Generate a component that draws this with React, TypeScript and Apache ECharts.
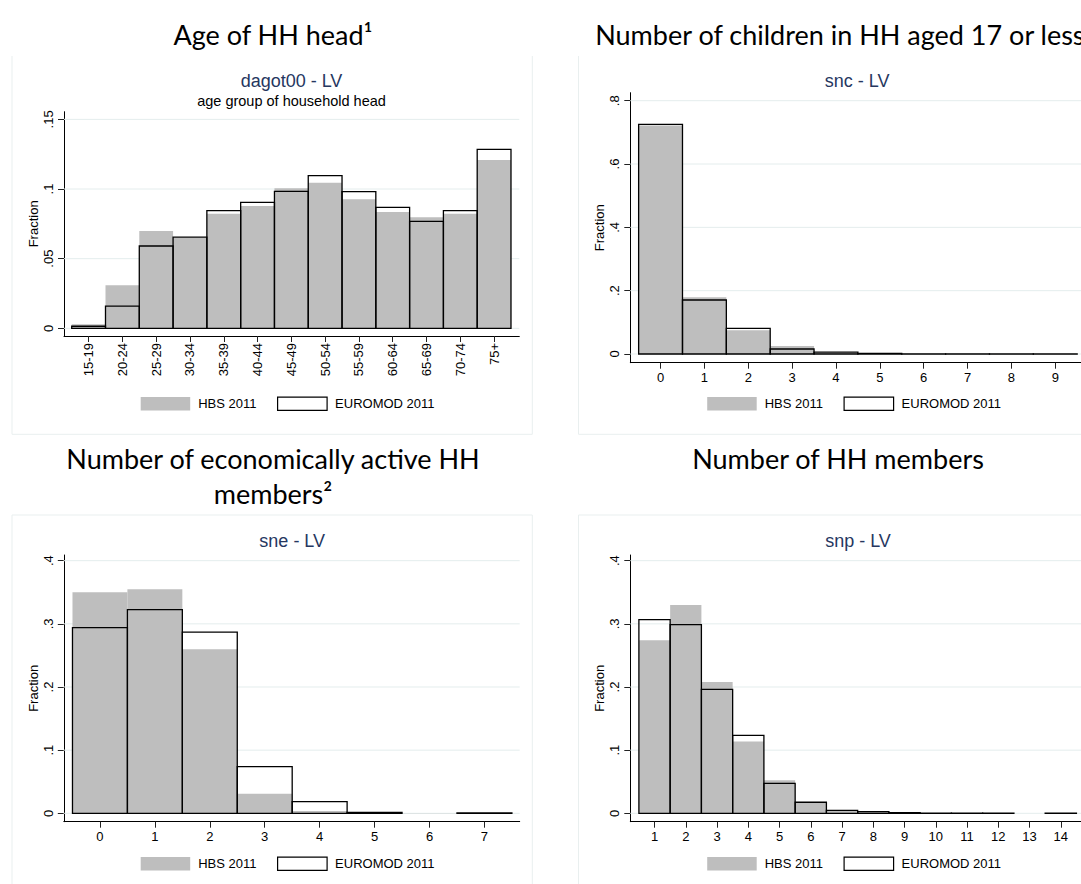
import React, { useEffect, useRef } from "react";
import * as echarts from "echarts";

// ---------- data ----------
const ageGroups = ["15-19", "20-24", "25-29", "30-34", "35-39", "40-44", "45-49", "50-54", "55-59", "60-64", "65-69", "70-74", "75+"];
const ageHBS = [0.003, 0.031, 0.0699, 0.0652, 0.0823, 0.0878, 0.1005, 0.1045, 0.0926, 0.0835, 0.0797, 0.0823, 0.1208];
const ageEM = [0.0015, 0.016, 0.0591, 0.0655, 0.0845, 0.0904, 0.0983, 0.1096, 0.0981, 0.0868, 0.0768, 0.0845, 0.1285];

const childValues = [0, 1, 2, 3, 4, 5, 6, 7, 8, 9];
const childHBS = [0.722, 0.179, 0.0747, 0.0253, 0.004, 0.001, 0.0005, 0.0004, 0.0003, 0.0003];
const childEM = [0.725, 0.1705, 0.081, 0.0158, 0.006, 0.0015, 0.0006, 0.0004, 0.0003, 0.0003];

const activeValues = [0, 1, 2, 3, 4, 5, 6, 7];
const activeHBS = [0.35, 0.3546, 0.2596, 0.0311, 0.0037, 0.0022, 0.0006, 0];
const activeEM = [0.294, 0.3224, 0.287, 0.0739, 0.0185, 0.0015, 0, 0.0008];

const memberValues = [1, 2, 3, 4, 5, 6, 7, 8, 9, 10, 11, 12, 13, 14];
const memberHBS = [0.2739, 0.3298, 0.208, 0.1135, 0.0522, 0.017, 0.004, 0.003, 0.0008, 0.0003, 0.0001, 0, 0, 0];
const memberEM = [0.3066, 0.2987, 0.1963, 0.1235, 0.0475, 0.0175, 0.0047, 0.0026, 0.0012, 0.0004, 0.0003, 0.0002, 0, 0.0002];

const yTicksAge = [0, 0.05, 0.1, 0.15];
const yLabelsAge = ["0", ".05", ".1", ".15"];
const yTicksChild = [0, 0.2, 0.4, 0.6, 0.8];
const yLabelsChild = ["0", ".2", ".4", ".6", ".8"];
const yTicksTenth = [0, 0.1, 0.2, 0.3, 0.4];
const yLabelsTenth = ["0", ".1", ".2", ".3", ".4"];

const seriesNames = ["HBS 2011", "EUROMOD 2011"];

// ---------- style ----------
const GREY = "#bebebe";
const GRID = "#e4eded";
const FRAME = "#e9efef";
const NAVY = "#26375f";
const AXFONT = "Liberation Sans, Arial, sans-serif";
const TITLEFONT = "Lato, 'Open Sans', sans-serif";

function labelFor(ticks: number[], labels: string[]) {
  return (v: number) => {
    const i = ticks.findIndex((t) => Math.abs(t - v) < 1e-9);
    return i >= 0 ? labels[i] : "";
  };
}

function barRender(fill: string, stroke: string, lw: number) {
  return (params: any, api: any) => {
    const x = api.value(0);
    const v = api.value(1);
    if (!v) return { type: "group", children: [] };
    const a = api.coord([x - 0.5, 0]);
    const b = api.coord([x + 0.5, v]);
    return {
      type: "rect",
      shape: { x: a[0], y: b[1], width: b[0] - a[0], height: a[1] - b[1] },
      style: { fill, stroke, lineWidth: lw },
    };
  };
}

function gridLineSeries(idx: number, ticks: number[]) {
  return {
    type: "custom",
    xAxisIndex: idx,
    yAxisIndex: idx,
    silent: true,
    z: 1,
    data: ticks.map((t) => [0, t]),
    encode: { x: 0, y: 1 },
    renderItem: (params: any, api: any) => {
      const cs = params.coordSys;
      const y = api.coord([api.value(0), api.value(1)])[1];
      return {
        type: "line",
        shape: { x1: cs.x, y1: y, x2: cs.x + cs.width, y2: y },
        style: { stroke: GRID, lineWidth: 1 },
      };
    },
  };
}

function histPair(idx: number, xs: number[], hbs: number[], em: number[]) {
  return [
    {
      type: "custom",
      name: seriesNames[0],
      xAxisIndex: idx,
      yAxisIndex: idx,
      z: 2,
      itemStyle: { color: GREY },
      data: xs.map((x, i) => [x, hbs[i]]),
      encode: { x: 0, y: 1 },
      renderItem: barRender(GREY, "none", 0),
    },
    {
      type: "custom",
      name: seriesNames[1],
      xAxisIndex: idx,
      yAxisIndex: idx,
      z: 3,
      itemStyle: { color: "#ffffff", borderColor: "#000", borderWidth: 1.3 },
      data: xs.map((x, i) => [x, em[i]]),
      encode: { x: 0, y: 1 },
      renderItem: barRender("none", "#000", 1.3),
    },
  ];
}

function xAxis(idx: number, min: number, max: number, ticks: number[], fmt: (v: number) => string, rotate = 0) {
  return {
    type: "value",
    gridIndex: idx,
    min,
    max,
    axisLine: { show: true, onZero: false, lineStyle: { color: "#000", width: 1 } },
    axisTick: { show: true, customValues: ticks, length: 6, lineStyle: { color: "#222", width: 1 } },
    axisLabel: {
      customValues: ticks,
      formatter: fmt,
      rotate,
      margin: rotate ? 7 : 8,
      fontSize: 13,
      fontFamily: AXFONT,
      color: "#000",
    },
    splitLine: { show: false },
  };
}

function yAxis(idx: number, min: number, max: number, ticks: number[], labels: string[]) {
  return {
    type: "value",
    gridIndex: idx,
    min,
    max,
    name: "Fraction",
    nameLocation: "middle",
    nameGap: 24,
    nameTextStyle: { fontSize: 13, fontFamily: AXFONT, color: "#000" },
    axisLine: { show: true, onZero: false, lineStyle: { color: "#000", width: 1 } },
    axisTick: { show: true, customValues: ticks, length: 6, lineStyle: { color: "#222", width: 1 } },
    axisLabel: {
      customValues: ticks,
      formatter: labelFor(ticks, labels),
      rotate: 90,
      margin: 9,
      fontSize: 13,
      fontFamily: AXFONT,
      color: "#000",
    },
    splitLine: { show: false },
  };
}

function legendAt(left: number, top: number) {
  return {
    left,
    top,
    padding: 0,
    orient: "horizontal",
    itemWidth: 49.5,
    itemHeight: 13.3,
    itemGap: 20.5,
    selectedMode: false,
    textStyle: { fontSize: 13, fontFamily: AXFONT, color: "#000", padding: [0, 0, 0, 3] },
    data: [
      { name: seriesNames[0], icon: "rect", itemStyle: { color: GREY, borderWidth: 0 } },
      { name: seriesNames[1], icon: "rect", itemStyle: { color: "#ffffff", borderColor: "#000", borderWidth: 1.2 } },
    ],
  };
}

function txt(x: number, y: number, text: string, font: string, fill: string, align = "center") {
  return {
    type: "text",
    x,
    y,
    silent: true,
    style: { text, font, fill, textAlign: align, textVerticalAlign: "middle" },
  };
}

function ln(x1: number, y1: number, x2: number, y2: number) {
  return {
    type: "line",
    silent: true,
    shape: { x1, y1, x2, y2 },
    style: { stroke: FRAME, lineWidth: 1 },
  };
}

export default function App() {
  const ref = useRef<HTMLDivElement>(null);

  useEffect(() => {
    if (!ref.current) return;
    const chart = echarts.init(ref.current, undefined, { renderer: "svg" });
    const ageIdx = ageGroups.map((_, i) => i);
    const ageFmt = (v: number) => ageGroups[Math.round(v)] ?? "";
    const intFmt = (v: number) => String(Math.round(v));

    const titleFont = `27px ${TITLEFONT}`;
    const subFont = `18px ${AXFONT}`;
    const noteFont = `14.5px ${AXFONT}`;

    const option: any = {
      animation: false,
      backgroundColor: "#ffffff",
      grid: [
        { left: 64, top: 111.7, width: 455.3, height: 224.3 },
        { left: 630.3, top: 92.7, width: 468.8, height: 270 },
        { left: 63.8, top: 555, width: 455.9, height: 266.7 },
        { left: 630.3, top: 555, width: 493, height: 266.7 },
      ],
      xAxis: [
        xAxis(0, -0.728, 12.746, ageIdx, ageFmt, 90),
        xAxis(1, -0.69, 10, childValues, intFmt),
        xAxis(2, -0.658, 7.642, activeValues, intFmt),
        xAxis(3, 0.225, 16, memberValues, intFmt),
      ],
      yAxis: [
        yAxis(0, -0.0055, 0.1555, yTicksAge, yLabelsAge),
        yAxis(1, -0.0275, 0.8253, yTicksChild, yLabelsChild),
        yAxis(2, -0.0133, 0.409, yTicksTenth, yLabelsTenth),
        yAxis(3, -0.0133, 0.409, yTicksTenth, yLabelsTenth),
      ],
      legend: [legendAt(140.7, 396.5), legendAt(707.2, 396.5), legendAt(140.7, 856.5), legendAt(707.2, 856.5)],
      series: [
        gridLineSeries(0, yTicksAge),
        gridLineSeries(1, yTicksChild),
        gridLineSeries(2, yTicksTenth),
        gridLineSeries(3, yTicksTenth),
        ...histPair(0, ageIdx, ageHBS, ageEM),
        ...histPair(1, childValues, childHBS, childEM),
        ...histPair(2, activeValues, activeHBS, activeEM),
        ...histPair(3, memberValues, memberHBS, memberEM),
      ],
      graphic: [
        // frames
        ln(12, 56, 12, 434.3),
        ln(12, 434.3, 532.3, 434.3),
        ln(532.3, 56, 532.3, 434.3),
        ln(578.5, 56, 578.5, 434.3),
        ln(578.5, 434.3, 1140, 434.3),
        ln(12, 515, 532.3, 515),
        ln(12, 515, 12, 884),
        ln(532.3, 515, 532.3, 884),
        ln(578.5, 515, 1140, 515),
        ln(578.5, 515, 578.5, 884),
        // slide titles
        txt(273, 34.2, "Age of HH head\u00B9", titleFont, "#000"),
        txt(595.2, 34.2, "Number of children in HH aged 17 or less", titleFont, "#000", "left"),
        txt(273, 458.3, "Number of economically active HH", titleFont, "#000"),
        txt(273, 493.7, "members\u00B2", titleFont, "#000"),
        txt(838, 458.3, "Number of HH members", titleFont, "#000"),
        // chart titles
        txt(291.5, 80.5, "dagot00 - LV", subFont, NAVY),
        txt(291.5, 101, "age group of household head", noteFont, "#000"),
        txt(857.2, 80.5, "snc - LV", subFont, NAVY),
        txt(292.2, 540.5, "sne - LV", subFont, NAVY),
        txt(858, 540.5, "snp - LV", subFont, NAVY),
      ],
    };
    chart.setOption(option);
    return () => chart.dispose();
  }, []);

  return (
    <div
      style={{
        position: "absolute",
        left: 0,
        top: 0,
        width: 1081,
        height: 884,
        overflow: "hidden",
        background: "#ffffff",
      }}
    >
      <div ref={ref} style={{ width: 1140, height: 884 }} />
    </div>
  );
}
